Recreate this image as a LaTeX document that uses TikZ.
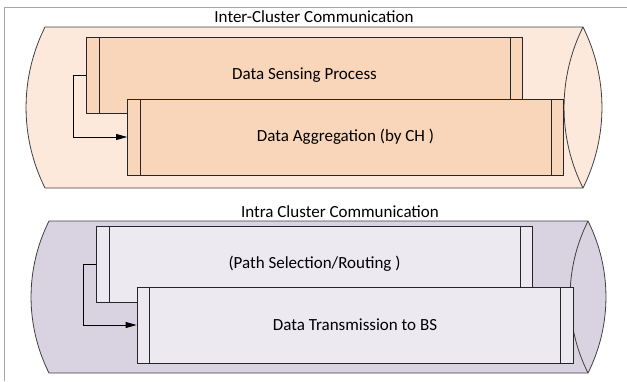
\documentclass[tikz,border=0pt]{standalone}
\usepackage{fontspec}
\setmainfont{Carlito}
\usepackage{xcolor}
\usepackage{tikz}
\usetikzlibrary{arrows.meta,positioning}

\definecolor{peachbg}{HTML}{FCE9DB}
\definecolor{peachbox}{HTML}{F9D6B9}
\definecolor{lilacbg}{HTML}{D9D3E1}
\definecolor{lilacbox}{HTML}{ECE9F1}

\begin{document}
\begin{tikzpicture}[x=1pt, y=-1pt, every node/.style={font=\fontsize{17}{20}\selectfont},
        tube/.style={draw=black!75, line width=0.8pt},
        stage/.style={draw=black!85, line width=0.8pt, minimum width=436pt,
        minimum height=76pt, inner sep=0pt,
        path picture={\draw[black!85, line width=0.8pt]
        ([xshift=12.5pt]path picture bounding box.north west) -- ([xshift=12.5pt]path picture bounding box.south west)
        ([xshift=-12.5pt]path picture bounding box.north east) -- ([xshift=-12.5pt]path picture bounding box.south east);}},
        flow/.style={draw=black, line width=0.8pt, -{Triangle[length=11pt,width=6pt]}}]
        \useasboundingbox (0,0) rectangle (627,381);
        \draw[black!35, line width=0.8pt] (4,381) -- (4,7) -- (627,7);
        \foreach \xa/\xb/\ya/\yb/\sg/\cf in {45/583/27/188/19/peachbg, 49/588/221/373/18/lilacbg}
        {
        \filldraw[tube, fill=\cf] (\xa,\ya) -- (\xb,\ya)
        .. controls ({\xb+1.33*\sg},{\ya+0.315*(\yb-\ya)}) and ({\xb+1.33*\sg},{\yb-0.315*(\yb-\ya)}) .. (\xb,\yb)
        -- (\xa,\yb)
        .. controls ({\xa-1.33*\sg},{\yb-0.315*(\yb-\ya)}) and ({\xa-1.33*\sg},{\ya+0.315*(\yb-\ya)}) .. (\xa,\ya) -- cycle;
        \draw[tube] (\xb,\ya)
        .. controls ({\xb-1.33*\sg},{\ya+0.315*(\yb-\ya)}) and ({\xb-1.33*\sg},{\yb-0.315*(\yb-\ya)}) .. (\xb,\yb);
        }
        \node (inter) at (314,17) {Inter-Cluster Communication};
        \node[stage, fill=peachbox] (sense) at (304.5,75) {Data Sensing Process};
        \node[stage, fill=peachbox] (aggr) at (345.5,137) {Data Aggregation (by CH )};
        \draw[flow] (sense.west) -- ++(-13,0) |- (aggr.west);
        \node (intra) at (340,212) {Intra Cluster Communication};
        \node[stage, fill=lilacbox] (path) at (314.5,264) {(Path Selection/Routing )};
        \node[stage, fill=lilacbox] (send) at (355,325) {Data Transmission to BS};
        \draw[flow] (path.west) -- ++(-13,0) |- (send.west);
\end{tikzpicture}
\end{document}
